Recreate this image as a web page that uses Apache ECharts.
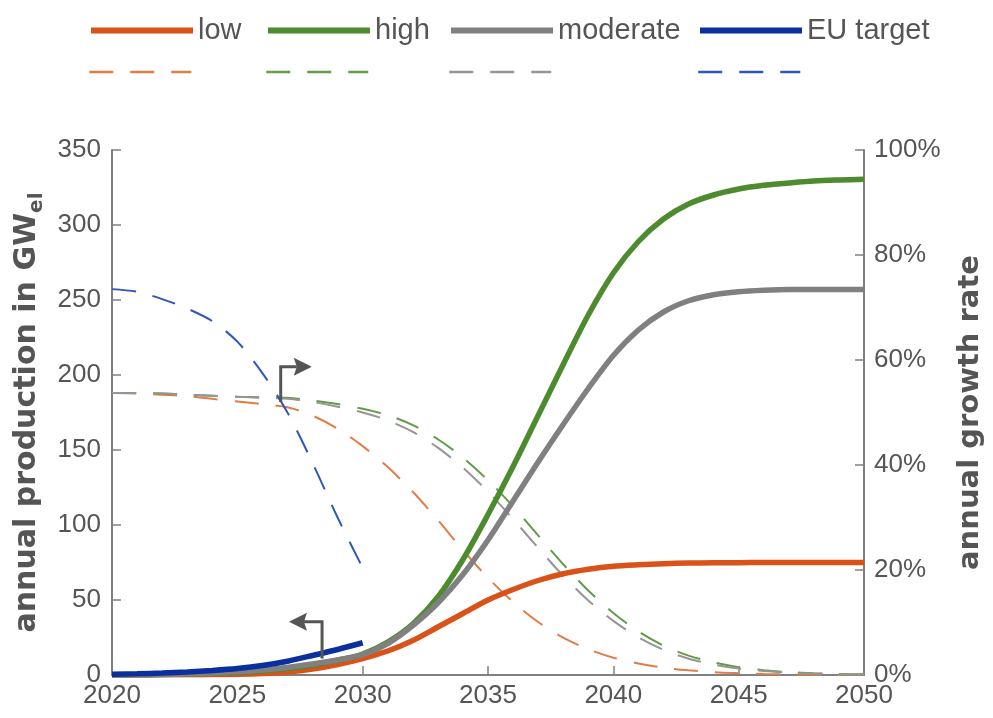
<!DOCTYPE html>
<html>
<head>
<meta charset="utf-8">
<script src="https://cdn.jsdelivr.net/npm/echarts@6/dist/echarts.min.js"></script>
<style>
  html, body { margin: 0; padding: 0; background: #ffffff; }
  #chart { width: 993px; height: 718px; }
</style>
</head>
<body>
<div id="chart"></div>
<script>
// Years of the scenario horizon
const years = [2020, 2021, 2022, 2023, 2024, 2025, 2026, 2027, 2028, 2029, 2030,
               2031, 2032, 2033, 2034, 2035, 2036, 2037, 2038, 2039, 2040,
               2041, 2042, 2043, 2044, 2045, 2046, 2047, 2048, 2049, 2050];
const euYears = [2020, 2021, 2022, 2023, 2024, 2025, 2026, 2027, 2028, 2029, 2030];

// Annual production in GW_el (left axis)
const lowProduction = [0, 0.05, 0.1, 0.2, 0.3, 0.5, 1.0, 2.0, 4.0, 7.0, 11.0,
                       16.0, 23.0, 32.0, 41.0, 50.0, 57.0, 63.0, 67.5, 70.5, 72.5,
                       73.5, 74.2, 74.6, 74.8, 74.9, 75.0, 75.0, 75.0, 75.0, 75.0];
const highProduction = [0, 0.1, 0.3, 0.6, 1.1, 1.8, 2.9, 4.4, 6.7, 9.8, 14.0,
                        22.0, 34.0, 52.0, 77.0, 107.0, 139.0, 173.0, 207.0, 240.0, 268.0,
                        289.0, 304.0, 314.0, 320.0, 324.0, 326.5, 328.0, 329.3, 330.0, 330.5];
const moderateProduction = [0, 0.1, 0.3, 0.7, 1.3, 2.2, 3.4, 5.0, 7.3, 10.0, 13.5,
                            21.0, 33.0, 48.0, 67.0, 90.0, 116.0, 142.0, 167.0, 191.0, 213.0,
                            230.0, 242.0, 249.5, 253.5, 255.5, 256.5, 257.0, 257.0, 257.0, 257.0];
const euProduction = [0.5, 0.8, 1.3, 2.0, 3.0, 4.3, 6.3, 9.2, 13.0, 17.0, 21.5];

// Annual growth rate in % (right axis)
const lowRate = [53.7, 53.6, 53.4, 53.1, 52.6, 52.1, 51.6, 51.0, 49.4, 46.9, 43.6,
                 39.6, 34.9, 29.5, 23.8, 18.5, 13.9, 10.1, 7.1, 4.9, 3.3,
                 2.2, 1.4, 0.9, 0.55, 0.35, 0.2, 0.12, 0.07, 0.04, 0.02];
const highRate = [53.7, 53.7, 53.6, 53.4, 53.2, 53.0, 52.9, 52.8, 52.3, 51.6, 50.7,
                  49.5, 47.6, 44.9, 41.4, 37.1, 32.1, 26.6, 21.1, 16.1, 11.8,
                  8.3, 5.6, 3.7, 2.4, 1.5, 0.9, 0.55, 0.33, 0.2, 0.12];
const moderateRate = [53.7, 53.7, 53.6, 53.4, 53.2, 53.0, 52.8, 52.6, 52.0, 51.1, 50.0,
                      48.5, 46.3, 43.3, 39.5, 34.9, 29.7, 24.2, 18.9, 14.2, 10.3,
                      7.2, 4.8, 3.1, 2.0, 1.25, 0.75, 0.45, 0.27, 0.16, 0.1];
const euRate = [73.5, 73.0, 71.6, 69.8, 67.4, 63.5, 57.5, 50.0, 40.4, 30.0, 20.4];

// Axis ticks
const xTicks = { min: 2020, max: 2050, interval: 5 };
const leftTicks = { min: 0, max: 350, interval: 50 };
const rightTicks = { min: 0, max: 100, interval: 20 };

// Legend entries: solid row (production) and dashed row (growth rate)
const scenarioNames = ['low', 'high', 'moderate', 'EU target'];
const rateNames = ['low rate', 'high rate', 'moderate rate', 'EU target rate'];
const legendColumns = [88, 265, 448, 697];

// Direction arrows (year, GW): which curves belong to which axis
const arrowToRight = [[2026.73, 182], [2026.73, 205.5], [2027.97, 205.5]];
const arrowToLeft = [[2028.38, 11], [2028.38, 35.5], [2027.06, 35.5]];

const tickFont = '"Liberation Sans", Arial, sans-serif';
const boldFont = '"DejaVu Sans", sans-serif';
const axisGrey = '#808080';
const textGrey = '#555555';
const arrowGrey = '#555555';

const colors = {
  low: '#D95319', lowRate: '#E07D47',
  high: '#4E8B2E', highRate: '#629C48',
  moderate: '#808080', moderateRate: '#959595',
  eu: '#0A2F9E', euRate: '#2D58B8'
};

function pairs(xs, ys) { return ys.map((v, i) => [xs[i], v]); }

const solid = (name, xs, ys, color) => ({
  name, type: 'line', xAxisIndex: 0, yAxisIndex: 0,
  data: pairs(xs, ys), symbol: 'none', showSymbol: false, smooth: 0.3,
  lineStyle: { color, width: 5.5 }, itemStyle: { color }, z: 4,
  emphasis: { disabled: true }
});
const dashed = (name, xs, ys, color) => ({
  name, type: 'line', xAxisIndex: 0, yAxisIndex: 1,
  data: pairs(xs, ys), symbol: 'none', showSymbol: false, smooth: 0.3,
  lineStyle: { color, width: 2, type: [24, 17] }, itemStyle: { color }, z: 3,
  emphasis: { disabled: true }
});

// One legend per column so both rows line up
const legends = [];
scenarioNames.forEach((name, i) => {
  legends.push({
    data: [name], left: legendColumns[i], top: 16, padding: 0,
    itemWidth: 102, itemHeight: 36, itemGap: 0, selectedMode: false,
    itemStyle: { opacity: 0 }, lineStyle: { width: 6 },
    textStyle: { fontSize: 29, color: textGrey, fontFamily: tickFont }
  });
});
rateNames.forEach((name, i) => {
  legends.push({
    data: [name], left: legendColumns[i], top: 54, padding: 0,
    itemWidth: 102, itemHeight: 36, itemGap: 0, selectedMode: false,
    itemStyle: { opacity: 0 }, lineStyle: { width: 2.5 },
    formatter: () => '',
    textStyle: { fontSize: 29, color: textGrey, fontFamily: tickFont }
  });
});

const chart = echarts.init(document.getElementById('chart'), null, { renderer: 'canvas' });

chart.setOption({
  backgroundColor: '#ffffff',
  animation: false,
  grid: { left: 112, right: 125, top: 150, bottom: 43, containLabel: false },
  legend: legends,
  xAxis: {
    type: 'value', min: xTicks.min, max: xTicks.max, interval: xTicks.interval,
    axisLine: { lineStyle: { color: axisGrey, width: 2 } },
    axisTick: { inside: true, length: 9, lineStyle: { color: axisGrey, width: 1.5 } },
    axisLabel: { fontSize: 26, color: textGrey, fontFamily: tickFont, margin: 8, formatter: v => String(v) },
    splitLine: { show: false }
  },
  yAxis: [
    {
      type: 'value', position: 'left', min: leftTicks.min, max: leftTicks.max, interval: leftTicks.interval,
      axisLine: { show: true, lineStyle: { color: axisGrey, width: 2 } },
      axisTick: { show: true, inside: true, length: 9, lineStyle: { color: axisGrey, width: 1.5 } },
      axisLabel: { fontSize: 26, color: textGrey, fontFamily: tickFont, margin: 11 },
      splitLine: { show: false },
      name: '{t|annual production in GW}{s|el}',
      nameLocation: 'middle', nameRotate: 90, nameGap: 64,
      nameTextStyle: {
        rich: {
          t: { fontSize: 30, fontWeight: 'bold', color: textGrey, fontFamily: boldFont, lineHeight: 40, verticalAlign: 'middle' },
          s: { fontSize: 20, fontWeight: 'bold', color: textGrey, fontFamily: boldFont, lineHeight: 40, verticalAlign: 'bottom' }
        }
      }
    },
    {
      type: 'value', position: 'right', min: rightTicks.min, max: rightTicks.max, interval: rightTicks.interval,
      axisLine: { show: true, lineStyle: { color: axisGrey, width: 2 } },
      axisTick: { show: true, inside: true, length: 9, lineStyle: { color: axisGrey, width: 1.5 } },
      axisLabel: { fontSize: 26, color: textGrey, fontFamily: tickFont, margin: 10, formatter: '{value}%' },
      splitLine: { show: false },
      name: 'annual growth rate',
      nameLocation: 'middle', nameRotate: 90, nameGap: 92,
      nameTextStyle: { fontSize: 29, fontWeight: 'bold', color: textGrey, fontFamily: boldFont }
    }
  ],
  series: [
    dashed('low rate', years, lowRate, colors.lowRate),
    dashed('high rate', years, highRate, colors.highRate),
    dashed('moderate rate', years, moderateRate, colors.moderateRate),
    dashed('EU target rate', euYears, euRate, colors.euRate),
    solid('low', years, lowProduction, colors.low),
    solid('high', years, highProduction, colors.high),
    solid('moderate', years, moderateProduction, colors.moderate),
    solid('EU target', euYears, euProduction, colors.eu)
  ]
});

// Elbow arrows placed in data coordinates, converted to pixels after layout
function elbowArrow(points) {
  const px = points.map(p => chart.convertToPixel({ xAxisIndex: 0, yAxisIndex: 0 }, p));
  const tip = px[px.length - 1];
  const prev = px[px.length - 2];
  const dir = Math.sign(tip[0] - prev[0]);
  const headLen = 18, headHalf = 9;
  const base = [tip[0] - dir * headLen, tip[1]];
  return [
    { type: 'polyline', silent: true, z: 10,
      shape: { points: px.slice(0, -1).concat([[base[0] + dir * 3, base[1]]]) },
      style: { stroke: arrowGrey, lineWidth: 3, fill: null } },
    { type: 'polygon', silent: true, z: 10,
      shape: { points: [tip, [base[0], base[1] - headHalf], [base[0] + dir * 3, base[1]], [base[0], base[1] + headHalf]] },
      style: { fill: arrowGrey } }
  ];
}

chart.setOption({ graphic: elbowArrow(arrowToRight).concat(elbowArrow(arrowToLeft)) });
</script>
</body>
</html>
